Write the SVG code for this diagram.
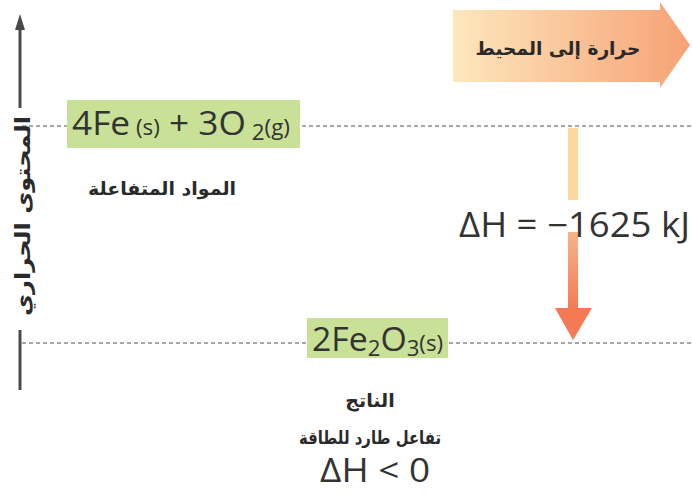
<svg xmlns="http://www.w3.org/2000/svg" width="692" height="497" viewBox="0 0 692 497">
<style>
.lat{font-family:"Open Sans","Noto Sans","DejaVu Sans",sans-serif;fill:#333}
.ar{font-family:"DejaVu Sans","Noto Sans",sans-serif;font-weight:bold;fill:#2a2a2a}
.dash{stroke:#8a8a8a;stroke-width:1.5;stroke-dasharray:4 3;fill:none}
.axis{stroke:#4a4a4a;stroke-width:3;fill:none}
.box{fill:#c9e196}
</style>
<defs>
<linearGradient id="gTop" x1="0" y1="0" x2="1" y2="0">
<stop offset="0" stop-color="#fde7bd"/>
<stop offset="1" stop-color="#f6a275"/>
</linearGradient>
<linearGradient id="gDown" x1="0" y1="0" x2="0" y2="1">
<stop offset="0" stop-color="#f6b489"/>
<stop offset="1" stop-color="#f47a55"/>
</linearGradient>
</defs>
<g id="connectors">
<line class="dash" x1="22" y1="126" x2="692" y2="126"/>
<line class="dash" x1="22" y1="343" x2="692" y2="343"/>
<line class="axis" x1="20" y1="108" x2="20" y2="30"/>
<polygon points="20,14 15,30 25,30" fill="#4a4a4a"/>
<line class="axis" x1="20" y1="330" x2="20" y2="390"/>
</g>
<g id="axis-label">
<text class="ar" font-size="21" text-anchor="middle" textLength="200" lengthAdjust="spacingAndGlyphs" transform="translate(30,216) rotate(-90)">المحتوى الحراري</text>
</g>
<g id="heat-arrow">
<polygon points="453,10 660,10 660,2 690,45 660,88 660,82 453,82" fill="url(#gTop)"/>
<text class="ar" x="558" y="55" font-size="19" text-anchor="middle" textLength="165" lengthAdjust="spacingAndGlyphs">حرارة إلى المحيط</text>
</g>
<g id="reactants">
<rect class="box" x="67" y="100" width="233" height="48"/>
<text class="lat" x="72" y="135" font-size="33" textLength="218" lengthAdjust="spacingAndGlyphs">4Fe<tspan font-size="21"> (s)</tspan> + 3O<tspan font-size="21" dy="5"> 2</tspan><tspan font-size="21" dy="-5">(g)</tspan></text>
<text class="ar" x="162" y="195" font-size="18" text-anchor="middle" textLength="148" lengthAdjust="spacingAndGlyphs">المواد المتفاعلة</text>
</g>
<g id="delta-arrow">
<rect x="568" y="128" width="10" height="72" fill="#fbd99c"/>
<rect x="568" y="232" width="10" height="78" fill="url(#gDown)"/>
<polygon points="555,308 592,308 573,340" fill="#f47a55"/>
<text class="lat" x="459" y="237" font-size="34" textLength="231" lengthAdjust="spacingAndGlyphs">ΔH = −1625 kJ</text>
</g>
<g id="products">
<rect class="box" x="307" y="318" width="141" height="40"/>
<text class="lat" x="312" y="351" font-size="32" textLength="131" lengthAdjust="spacingAndGlyphs">2Fe<tspan font-size="21" dy="5">2</tspan><tspan dy="-5">O</tspan><tspan font-size="21" dy="5">3</tspan><tspan font-size="21" dy="-5">(s)</tspan></text>
<text class="ar" x="370" y="407" font-size="19" text-anchor="middle">الناتج</text>
<text class="ar" x="370" y="444" font-size="18" text-anchor="middle" textLength="142" lengthAdjust="spacingAndGlyphs">تفاعل طارد للطاقة</text>
<text class="lat" x="375" y="482" font-size="33" text-anchor="middle" textLength="110" lengthAdjust="spacingAndGlyphs">ΔH &lt; 0</text>
</g>
</svg>
